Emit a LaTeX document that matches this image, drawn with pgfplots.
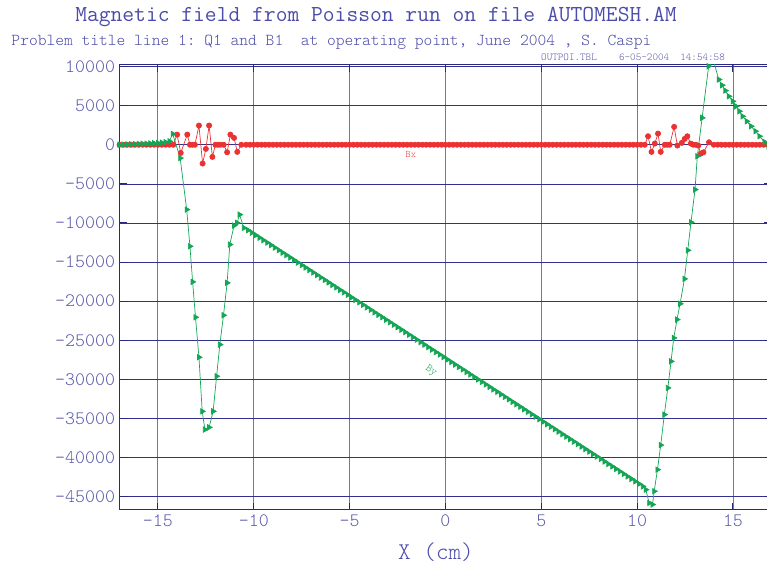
\documentclass[border=0pt]{standalone}
\usepackage{fontspec}
\setmonofont{Latin Modern Mono Light}
\newfontfamily\titlefont{Latin Modern Mono}
\usepackage{pgfplots}
\pgfplotsset{compat=1.18}
\definecolor{navy}{RGB}{40,40,130}
\definecolor{gridh}{RGB}{50,50,140}
\definecolor{gridv}{RGB}{115,115,195}
\definecolor{tickc}{RGB}{90,90,170}
\definecolor{titlec}{RGB}{75,75,170}
\definecolor{bxred}{RGB}{235,50,50}
\definecolor{bygreen}{RGB}{20,165,85}
\begin{document}
\ttfamily
\begin{tikzpicture}
\path[use as bounding box] (-119.6pt,-59pt) rectangle (647.4pt,510pt);
\begin{axis}[
  at={(0pt,0pt)}, anchor=south west, scale only axis,
  width=651.7pt, height=445pt,
  xmin=-17, xmax=17, ymin=-46700, ymax=10200,
  xtick={-15,-10,...,15}, ytick={-45000,-40000,...,10000},
  scaled ticks=false,
  grid=major,
  x grid style={color=gridv, line width=0.9pt},
  y grid style={color=gridh, line width=0.7pt},
  axis line style={color=navy, line width=1pt},
  tick style={color=navy, line width=1pt},
  major tick length=7pt, tick align=inside,
  /pgf/number format/assume math mode=true,
  /pgf/number format/set thousands separator={},
  /pgf/number format/fixed,
  ticklabel style={font=\ttfamily\fontsize{19}{20}\selectfont, text=tickc},
  yticklabel style={xshift=-1pt},
  xticklabel style={yshift=-1pt},
]
\addplot[color=bxred, line width=0.7pt, mark=*, mark size=2.6pt, mark options={fill=bxred, draw=bxred}] coordinates {
(-17.0,0) (-16.8,0) (-16.6,0) (-16.4,0) (-16.2,0) (-16.0,0) (-15.8,0) (-15.6,0) (-15.4,0) (-15.2,0) (-15.0,0) (-14.8,0) (-14.6,0) (-14.4,0) (-14.2,0)
(-14.0,1300) (-13.81,-1040) (-13.47,1300) (-13.33,0) (-13.2,0) (-13.07,0) (-12.86,2460) (-12.67,-2400) (-12.5,-530) (-12.33,2460) (-12.16,-1550) (-12.0,0) (-11.87,0) (-11.74,0) (-11.57,0) (-11.39,-960) (-11.22,1300) (-11.03,880) (-10.86,-910) (-10.65,0)
(-10.4,0) (-10.2,0) (-10.0,0) (-9.8,0) (-9.6,0) (-9.4,0) (-9.2,0) (-9.0,0) (-8.8,0) (-8.6,0) (-8.4,0) (-8.2,0) (-8.0,0) (-7.8,0) (-7.6,0) (-7.4,0) (-7.2,0) (-7.0,0) (-6.8,0) (-6.6,0) (-6.4,0) (-6.2,0) (-6.0,0) (-5.8,0) (-5.6,0) (-5.4,0) (-5.2,0) (-5.0,0) (-4.8,0) (-4.6,0) (-4.4,0) (-4.2,0) (-4.0,0) (-3.8,0) (-3.6,0) (-3.4,0) (-3.2,0) (-3.0,0) (-2.8,0) (-2.6,0) (-2.4,0) (-2.2,0) (-2.0,0) (-1.8,0) (-1.6,0) (-1.4,0) (-1.2,0) (-1.0,0) (-0.8,0) (-0.6,0) (-0.4,0) (-0.2,0)
(0.0,0) (0.2,0) (0.4,0) (0.6,0) (0.8,0) (1.0,0) (1.2,0) (1.4,0) (1.6,0) (1.8,0) (2.0,0) (2.2,0) (2.4,0) (2.6,0) (2.8,0) (3.0,0) (3.2,0) (3.4,0) (3.6,0) (3.8,0) (4.0,0) (4.2,0) (4.4,0) (4.6,0) (4.8,0) (5.0,0) (5.2,0) (5.4,0) (5.6,0) (5.8,0) (6.0,0) (6.2,0) (6.4,0) (6.6,0) (6.8,0) (7.0,0) (7.2,0) (7.4,0) (7.6,0) (7.8,0) (8.0,0) (8.2,0) (8.4,0) (8.6,0) (8.8,0) (9.0,0) (9.2,0) (9.4,0) (9.6,0) (9.8,0) (10.0,0) (10.2,0) (10.4,0)
(10.57,1090) (10.75,-910) (10.92,150) (11.09,1430) (11.23,-910) (11.44,0) (11.57,0) (11.7,0) (11.93,2290) (12.1,-100) (12.33,240) (12.48,750) (12.62,1090) (12.8,150) (12.93,0) (13.06,0) (13.19,-100) (13.32,-1130) (13.46,-960) (13.75,320) (14.0,0)
(14.2,0) (14.4,0) (14.6,0) (14.8,0) (15.0,0) (15.2,0) (15.4,0) (15.6,0) (15.8,0) (16.0,0) (16.2,0) (16.4,0) (16.6,0) (16.8,0) (17.0,0)
};
\addplot[color=bygreen, line width=0.7pt, mark=triangle*, mark size=3.1pt, mark options={rotate=-90, fill=bygreen, draw=bygreen}] coordinates {
(-17.0,0) (-16.8,20) (-16.6,40) (-16.4,60) (-16.2,80) (-16.0,100) (-15.8,120) (-15.6,140) (-15.4,170) (-15.2,200) (-15.0,230) (-14.8,270) (-14.6,330) (-14.4,450) (-14.23,1400) (-13.84,-1700)
(-13.5,-8290) (-13.33,-12980) (-13.19,-17530) (-13.04,-22060) (-12.86,-27170) (-12.69,-34080) (-12.55,-36420) (-12.33,-36130) (-12.12,-34080) (-11.94,-29600) (-11.77,-25550) (-11.58,-21800) (-11.39,-17660) (-11.25,-12760) (-11.03,-10330) (-10.87,-9990) (-10.74,-8930) (-10.52,-10630)
(-10.3,-10920) (-10.1,-11240) (-9.9,-11560) (-9.7,-11880) (-9.5,-12200) (-9.3,-12510) (-9.1,-12830) (-8.9,-13150) (-8.7,-13470) (-8.5,-13790) (-8.3,-14100) (-8.1,-14420) (-7.9,-14740) (-7.7,-15060) (-7.5,-15380) (-7.3,-15690) (-7.1,-16010) (-6.9,-16330) (-6.7,-16650) (-6.5,-16970) (-6.3,-17280) (-6.1,-17600) (-5.9,-17920) (-5.7,-18240) (-5.5,-18560) (-5.3,-18870) (-5.1,-19190)
(-4.9,-19510) (-4.7,-19830) (-4.5,-20150) (-4.3,-20460) (-4.1,-20780) (-3.9,-21100) (-3.7,-21420) (-3.5,-21740) (-3.3,-22050) (-3.1,-22370) (-2.9,-22690) (-2.7,-23010) (-2.5,-23330) (-2.3,-23640) (-2.1,-23960) (-1.9,-24280) (-1.7,-24600) (-1.5,-24920) (-1.3,-25230) (-1.1,-25550) (-0.9,-25870) (-0.7,-26190) (-0.5,-26510) (-0.3,-26820) (-0.1,-27140)
(0.1,-27460) (0.3,-27780) (0.5,-28100) (0.7,-28410) (0.9,-28730) (1.1,-29050) (1.3,-29370) (1.5,-29690) (1.7,-30000) (1.9,-30320) (2.1,-30640) (2.3,-30960) (2.5,-31280) (2.7,-31590) (2.9,-31910) (3.1,-32230) (3.3,-32550) (3.5,-32870) (3.7,-33180) (3.9,-33500) (4.1,-33820) (4.3,-34140) (4.5,-34460) (4.7,-34770) (4.9,-35090)
(5.1,-35410) (5.3,-35730) (5.5,-36050) (5.7,-36360) (5.9,-36680) (6.1,-37000) (6.3,-37320) (6.5,-37640) (6.7,-37950) (6.9,-38270) (7.1,-38590) (7.3,-38910) (7.5,-39230) (7.7,-39540) (7.9,-39860) (8.1,-40180) (8.3,-40500) (8.5,-40820) (8.7,-41130) (8.9,-41450) (9.1,-41770) (9.3,-42090) (9.5,-42410) (9.7,-42720) (9.9,-43040) (10.1,-43360) (10.3,-43680)
(10.45,-44100) (10.63,-45800) (10.8,-46000) (10.89,-44300) (11.06,-41540) (11.23,-38400) (11.42,-34500) (11.6,-31090) (11.77,-27690) (11.91,-24700) (12.08,-22350) (12.24,-20330) (12.47,-17150) (12.64,-13490) (12.81,-9910) (13.02,-5730) (13.14,-1470) (13.39,3440) (13.73,10040) (13.86,10340) (14.03,10340)
(14.26,8340) (14.43,7610) (14.6,6930) (14.78,6200) (14.99,5560) (15.16,4920) (15.33,4280) (15.5,3640) (15.72,3000) (15.94,2370) (16.17,1730) (16.38,1090) (16.64,370) (16.85,-200)
};
\node[text=bxred, font=\ttfamily\fontsize{10}{11}\selectfont] at (axis cs:-1.8,-1300) {Bx};
\node[text=bygreen, rotate=-35, inner sep=0pt, font=\ttfamily\fontsize{11}{12}\selectfont] at (axis cs:-0.75,-28900) {By};
\end{axis}
\node[text=titlec, font=\titlefont\fontsize{22.9}{24}\selectfont] at (256.4pt,493pt) {Magnetic field from Poisson run on file AUTOMESH.AM};
\node[text=titlec, font=\ttfamily\fontsize{16.7}{18}\selectfont] at (211.9pt,468pt) {Problem title line 1: Q1 and B1\ \ at operating point, June 2004 , S. Caspi};
\node[text=tickc, anchor=west, inner sep=0pt, font=\ttfamily\fontsize{10.6}{11}\selectfont] at (421.4pt,453pt) {OUTPOI.TBL\ \ \ \ 6-05-2004\ \ 14:54:58};
\node[text=titlec, font=\ttfamily\fontsize{24}{26}\selectfont] at (316.4pt,-42pt) {X (cm)};
\end{tikzpicture}
\end{document}
